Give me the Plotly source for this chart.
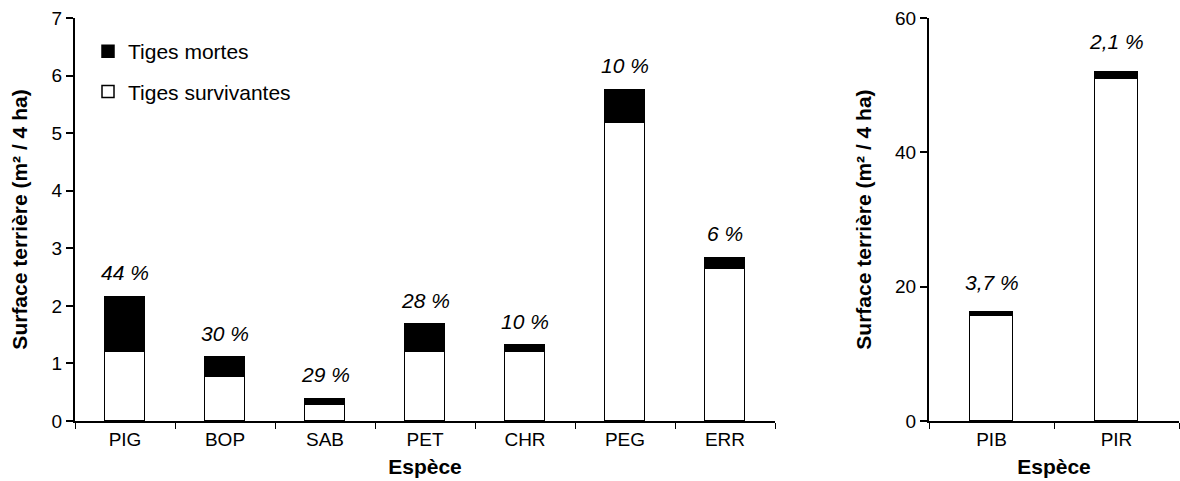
import plotly.graph_objects as go
from plotly.subplots import make_subplots

# Data
especes_a = ["PIG", "BOP", "SAB", "PET", "CHR", "PEG", "ERR"]
survivantes_a = [1.2, 0.77, 0.27, 1.19, 1.19, 5.18, 2.64]
mortes_a = [0.96, 0.34, 0.12, 0.49, 0.13, 0.57, 0.20]
pct_a = ["44 %", "30 %", "29 %", "28 %", "10 %", "10 %", "6 %"]

especes_b = ["PIB", "PIR"]
survivantes_b = [15.6, 50.9]
mortes_b = [0.6, 1.1]
pct_b = ["3,7 %", "2,1 %"]

FONT = "Liberation Sans, Arial, Helvetica, sans-serif"
W, H = 1180, 481
ml, mr, mt, mb = 75, 1, 18, 60
pw = W - ml - mr

fig = make_subplots(rows=1, cols=2)

fig.add_trace(go.Bar(x=especes_a, y=survivantes_a, name="Tiges survivantes",
                     marker=dict(color="white", line=dict(color="black", width=1.5)),
                     width=0.4, legendgroup="s", legendrank=2), row=1, col=1)
fig.add_trace(go.Bar(x=especes_a, y=mortes_a, name="Tiges mortes",
                     marker=dict(color="black", line=dict(color="black", width=1.5)),
                     width=0.4, legendgroup="m", legendrank=1), row=1, col=1)
fig.add_trace(go.Bar(x=especes_b, y=survivantes_b, name="Tiges survivantes",
                     marker=dict(color="white", line=dict(color="black", width=1.5)),
                     width=0.34, showlegend=False), row=1, col=2)
fig.add_trace(go.Bar(x=especes_b, y=mortes_b, name="Tiges mortes",
                     marker=dict(color="black", line=dict(color="black", width=1.5)),
                     width=0.34, showlegend=False), row=1, col=2)

for x, s, m, t in zip(especes_a, survivantes_a, mortes_a, pct_a):
    fig.add_annotation(x=x, y=s + m, xref="x", yref="y", text=t, showarrow=False,
                       yanchor="middle", yshift=24,
                       font=dict(family=FONT, size=21, color="black", style="italic"))
for x, s, m, t in zip(especes_b, survivantes_b, mortes_b, pct_b):
    fig.add_annotation(x=x, y=s + m, xref="x2", yref="y2", text=t, showarrow=False,
                       yanchor="middle", yshift=30,
                       font=dict(family=FONT, size=21, color="black", style="italic"))

axis_common = dict(showline=True, linecolor="black", linewidth=2, showgrid=False,
                   zeroline=False, ticks="outside", tickcolor="black",
                   tickfont=dict(family=FONT, size=19, color="black"))

fig.update_xaxes(**axis_common, ticklen=6, tickwidth=1, tickson="boundaries",
                 title=dict(text="<b>Espèce</b>", font=dict(family=FONT, size=21, color="black"),
                            standoff=11))
fig.update_xaxes(domain=[0, 700 / pw], row=1, col=1)
fig.update_xaxes(domain=[(929 - ml) / pw, 1.0], row=1, col=2)

fig.update_yaxes(**axis_common, ticklen=7, tickwidth=1.5,
                 title=dict(text="<b>Surface terrière (m² / 4 ha)</b>",
                            font=dict(family=FONT, size=21, color="black"), standoff=18))
fig.update_yaxes(range=[0, 7], dtick=1, row=1, col=1)
fig.update_yaxes(range=[0, 60], dtick=20, row=1, col=2)

fig.update_layout(
    width=W, height=H, barmode="stack", bargap=0,
    margin=dict(l=ml, r=mr, t=mt, b=mb),
    paper_bgcolor="white", plot_bgcolor="white",
    font=dict(family=FONT, color="black"),
    legend=dict(x=(88 - ml) / pw, y=1 - (31 - mt) / (H - mt - mb), xanchor="left", yanchor="top",
                font=dict(family=FONT, size=21, color="black"),
                bgcolor="rgba(0,0,0,0)", tracegroupgap=10, traceorder="grouped"),
    showlegend=True,
)

fig.write_html("out.html")
